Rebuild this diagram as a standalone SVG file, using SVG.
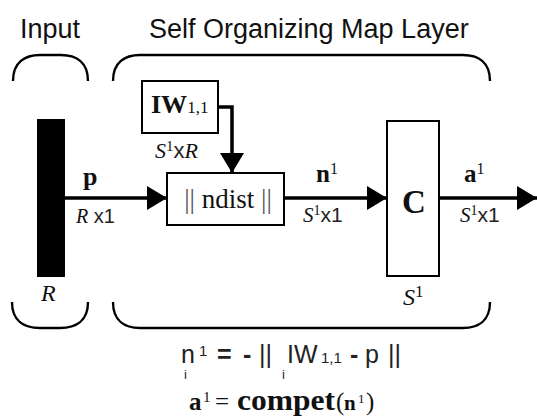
<svg xmlns="http://www.w3.org/2000/svg" width="537" height="418" viewBox="0 0 537 418">
<defs>
<marker id="ah" viewBox="0 0 20 24" refX="20" refY="12" markerWidth="20" markerHeight="24" markerUnits="userSpaceOnUse" orient="auto">
<path d="M0,0 L20,12 L0,24 Z" fill="#000"/>
</marker>
</defs>
<style>
.box{fill:#fff;stroke:#000;stroke-width:2}
.brace{fill:none;stroke:#000;stroke-width:2.4}
.conn{fill:none;stroke:#000;stroke-width:3.5}
.title{font-family:"Liberation Sans",Arial,sans-serif;font-size:27px;fill:#111}
.serif{font-family:"Liberation Serif","Times New Roman",serif;fill:#111}
.sans{font-family:"Liberation Sans",Arial,sans-serif;fill:#222}
.it{font-style:italic}
.b{font-weight:bold}
</style>
<rect width="537" height="418" fill="#fff"/>
<g id="titles">
<text class="title" x="20" y="38">Input</text>
<text class="title" x="149" y="38">Self Organizing Map Layer</text>
</g>
<g id="braces">
<path class="brace" d="M13,81 C13,62 25,55 40,55 L61,55 C76,55 88,62 88,81"/>
<path class="brace" d="M113,81 C113,62 125,55 140,55 L463,55 C478,55 490,62 490,81"/>
<path class="brace" d="M12,302 C12,321 24,328 40,328 L60,328 C76,328 88,321 88,302"/>
<path class="brace" d="M113,302 C113,321 125,328 140,328 L463,328 C478,328 490,321 490,302"/>
</g>
<g id="input">
<rect x="37" y="119" width="28" height="158" fill="#000"/>
<text class="serif it" x="41" y="301" font-size="24">R</text>
</g>
<g id="connectors">
<path class="conn" d="M65,198 L167,198" marker-end="url(#ah)"/>
<path class="conn" d="M218,107 L232,107 L232,173" marker-end="url(#ah)"/>
<path class="conn" d="M284,198 L387,198" marker-end="url(#ah)"/>
<path class="conn" d="M439,198 L537,198" marker-end="url(#ah)"/>
</g>
<g id="iw">
<rect class="box" x="142" y="81" width="76" height="52"/>
<text class="serif b" x="151" y="113" font-size="26">IW<tspan font-size="17" font-weight="normal">1,1</tspan></text>
<text x="155" y="158" font-size="22"><tspan class="serif it">S</tspan><tspan class="serif" font-size="15" dy="-7">1</tspan><tspan class="sans" dy="7">x</tspan><tspan class="serif it">R</tspan></text>
</g>
<g id="ndist">
<rect class="box" x="167" y="173" width="117" height="52"/>
<text class="serif" x="228" y="208" font-size="27" text-anchor="middle"><tspan fill="#555">||</tspan> ndist <tspan fill="#555">||</tspan></text>
</g>
<g id="compet">
<rect class="box" x="387" y="121" width="52" height="155"/>
<text class="serif b" x="414" y="213" font-size="33" text-anchor="middle">C</text>
<text x="403" y="305" font-size="24"><tspan class="serif it">S</tspan><tspan class="serif" font-size="17" dy="-8">1</tspan></text>
</g>
<g id="labels">
<text class="serif b" x="83" y="185" font-size="26">p</text>
<text x="76" y="223" font-size="20"><tspan class="serif it">R</tspan><tspan class="sans"> x1</tspan></text>
<text class="serif b" x="316" y="182" font-size="25">n<tspan font-size="16" font-weight="normal" dy="-8">1</tspan></text>
<text x="303" y="222" font-size="21"><tspan class="serif it">S</tspan><tspan class="serif" font-size="14" dy="-7">1</tspan><tspan class="sans" dy="7">x1</tspan></text>
<text class="serif b" x="464" y="182" font-size="25">a<tspan font-size="16" font-weight="normal" dy="-8">1</tspan></text>
<text x="460" y="222" font-size="21"><tspan class="serif it">S</tspan><tspan class="serif" font-size="14" dy="-7">1</tspan><tspan class="sans" dy="7">x1</tspan></text>
</g>
<g id="formula">
<text class="sans" font-size="25" y="363"><tspan x="181">n</tspan><tspan x="199" font-size="15" dy="-7">1</tspan><tspan x="217" dy="7" font-weight="bold">=</tspan><tspan x="243" font-weight="bold">-</tspan><tspan x="259">||</tspan><tspan x="287">IW</tspan><tspan x="321" font-size="15">1,1</tspan><tspan x="350" font-weight="bold">-</tspan><tspan x="365">p</tspan><tspan x="388">||</tspan></text>
<text class="sans" font-size="13" y="379"><tspan x="184">i</tspan><tspan x="282">i</tspan></text>
<text class="serif" y="410" font-size="25"><tspan x="189" font-weight="bold">a</tspan><tspan x="203" font-size="15" dy="-8">1</tspan><tspan x="215" dy="8">=</tspan></text>
<text class="serif b" x="237" y="410" font-size="30" textLength="98" lengthAdjust="spacingAndGlyphs">compet</text>
<text class="serif" y="410" font-size="25"><tspan x="336">(</tspan><tspan x="344" font-weight="bold" font-size="21">n</tspan><tspan x="358" font-size="13" dy="-7">1</tspan><tspan x="366" dy="7">)</tspan></text>
</g>
</svg>
